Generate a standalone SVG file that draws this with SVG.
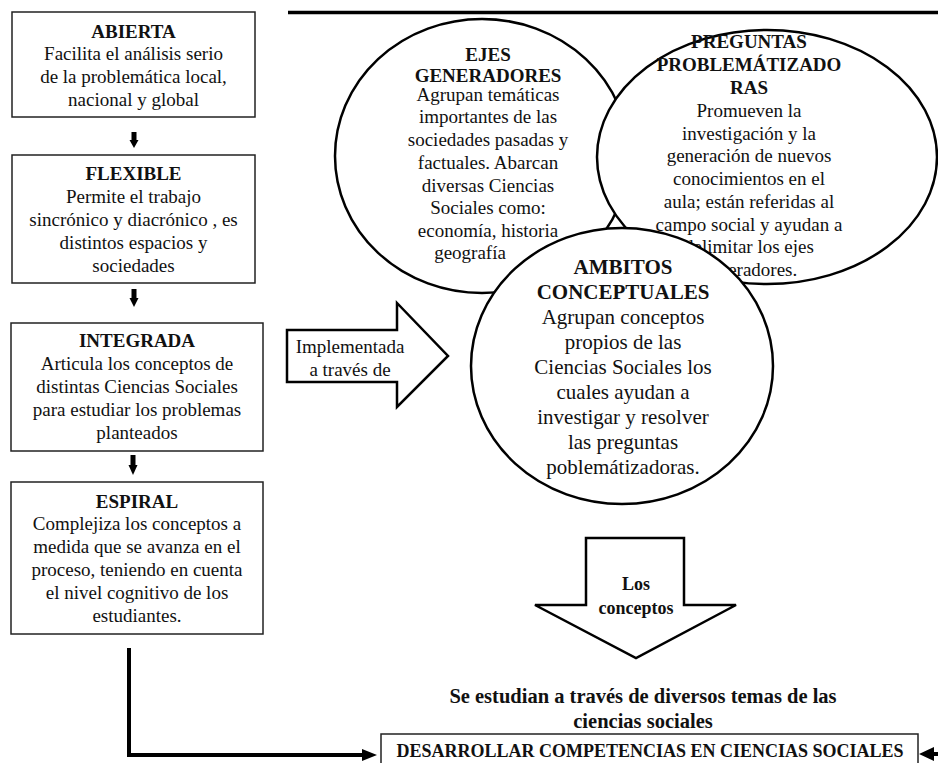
<svg xmlns="http://www.w3.org/2000/svg" width="938" height="763" viewBox="0 0 938 763">
<style>
  text { font-family: "Liberation Serif", "Times New Roman", serif; fill: #111; text-anchor: middle; }
  .t { font-size: 19px; }
  .tb { font-size: 19px; font-weight: bold; }
  .a { font-size: 21px; }
  .ab { font-size: 21px; font-weight: bold; }
  .box { fill: #fff; stroke: #222; stroke-width: 1.5; }
  .circ { fill: #fff; stroke: #000; stroke-width: 2.5; }
  .blk { fill: #fff; stroke: #000; stroke-width: 2.5; stroke-linejoin: miter; }
  .conn { fill: none; stroke: #000; stroke-width: 4; }
  .head { fill: #000; stroke: none; }
</style>

<line x1="288" y1="12.5" x2="938" y2="12.5" stroke="#000" stroke-width="3.5"/>

<g id="abierta">
  <rect class="box" x="12" y="12" width="243" height="105"/>
  <text class="tb" x="133.5" y="38">ABIERTA</text>
  <text class="t" x="133.5" y="60">Facilita el análisis serio</text>
  <text class="t" x="133.5" y="83">de la problemática local,</text>
  <text class="t" x="133.5" y="106">nacional y global</text>
</g>

<g id="flexible">
  <rect class="box" x="12" y="155" width="243" height="128"/>
  <text class="tb" x="133.5" y="180">FLEXIBLE</text>
  <text class="t" x="133.5" y="203">Permite el trabajo</text>
  <text class="t" x="133.5" y="226">sincrónico  y diacrónico , es</text>
  <text class="t" x="133.5" y="249">distintos espacios y</text>
  <text class="t" x="133.5" y="272">sociedades</text>
</g>

<g id="integrada">
  <rect class="box" x="11" y="323" width="252" height="128"/>
  <text class="tb" x="137" y="347">INTEGRADA</text>
  <text class="t" x="137" y="370">Articula los conceptos de</text>
  <text class="t" x="137" y="393">distintas Ciencias Sociales</text>
  <text class="t" x="137" y="416">para estudiar los problemas</text>
  <text class="t" x="137" y="439">planteados</text>
</g>

<g id="espiral">
  <rect class="box" x="11" y="482" width="252" height="152"/>
  <text class="tb" x="137" y="508">ESPIRAL</text>
  <text class="t" x="137" y="530">Complejiza los conceptos a</text>
  <text class="t" x="137" y="553">medida que se avanza en el</text>
  <text class="t" x="137" y="576">proceso, teniendo en cuenta</text>
  <text class="t" x="137" y="599">el nivel cognitivo de los</text>
  <text class="t" x="137" y="622">estudiantes.</text>
</g>

<g id="implementada">
  <polygon class="blk" points="287,330 397,330 397,303 448,356 397,407 397,382 287,382"/>
  <text class="t" x="350" y="353">Implementada</text>
  <text class="t" x="350" y="376">a través de</text>
</g>

<g id="ejes">
  <ellipse class="circ" cx="482" cy="156" rx="147" ry="137"/>
  <text class="tb" x="488" y="61">EJES</text>
  <text class="tb" x="488" y="82">GENERADORES</text>
  <text class="t" x="488" y="101">Agrupan temáticas</text>
  <text class="t" x="488" y="123">importantes de las</text>
  <text class="t" x="488" y="146">sociedades pasadas y</text>
  <text class="t" x="488" y="169">factuales.  Abarcan</text>
  <text class="t" x="488" y="192">diversas Ciencias</text>
  <text class="t" x="488" y="214">Sociales  como:</text>
  <text class="t" x="488" y="237">economía, historia</text>
  <text class="t" x="470" y="259">geografía</text>
</g>

<g id="preguntas">
  <ellipse class="circ" cx="767" cy="157" rx="170" ry="127"/>
  <text class="tb" x="749" y="48">PREGUNTAS</text>
  <text class="tb" x="749" y="71">PROBLEMÁTIZADO</text>
  <text class="tb" x="749" y="94">RAS</text>
  <text class="t" x="749" y="117">Promueven la</text>
  <text class="t" x="749" y="140">investigación  y la</text>
  <text class="t" x="749" y="162">generación de nuevos</text>
  <text class="t" x="749" y="185">conocimientos en el</text>
  <text class="t" x="749" y="208">aula; están referidas al</text>
  <text class="t" x="749" y="231">campo social y ayudan a</text>
  <text class="t" x="749" y="253">delimitar los ejes</text>
  <text class="t" x="749" y="276">generadores.</text>
</g>

<g id="ambitos">
  <ellipse class="circ" cx="622" cy="366" rx="151" ry="138"/>
  <text class="ab" x="623" y="274">AMBITOS</text>
  <text class="ab" x="623" y="299">CONCEPTUALES</text>
  <text class="a" x="623" y="324">Agrupan  conceptos</text>
  <text class="a" x="623" y="349">propios de las</text>
  <text class="a" x="623" y="374">Ciencias Sociales los</text>
  <text class="a" x="623" y="399">cuales ayudan a</text>
  <text class="a" x="623" y="424">investigar y resolver</text>
  <text class="a" x="623" y="449">las preguntas</text>
  <text class="a" x="623" y="474">poblemátizadoras.</text>
</g>

<g id="los-conceptos">
  <polygon class="blk" points="586,538 684,538 684,605 736,605 636,658 535,605 586,605"/>
  <text x="636" y="590" style="font-size:18px;font-weight:bold">Los</text>
  <text x="636" y="614" style="font-size:18px;font-weight:bold">conceptos</text>
</g>

<g id="se-estudian">
  <text x="643" y="703" style="font-size:20.5px;font-weight:bold">Se estudian a través de diversos temas de las</text>
  <text x="643" y="728" style="font-size:20.5px;font-weight:bold">ciencias sociales</text>
</g>

<g id="desarrollar">
  <rect class="box" x="381" y="734" width="537" height="40"/>
  <text x="650" y="757" style="font-size:18px;font-weight:bold">DESARROLLAR COMPETENCIAS EN CIENCIAS SOCIALES</text>
</g>

<g id="connectors">
  <rect class="head" x="131.5" y="132" width="5" height="9"/>
  <polygon class="head" points="129.5,140 138.5,140 134,148"/>
  <rect class="head" x="131.5" y="289" width="5" height="10"/>
  <polygon class="head" points="129.5,298 138.5,298 134,307"/>
  <rect class="head" x="130.5" y="455" width="5" height="11"/>
  <polygon class="head" points="128.5,465 137.5,465 133,475"/>
  <polyline class="conn" points="129,648 129,755 364,755"/>
  <polygon class="head" points="362,749 377,755 362,761"/>
  <line class="conn" x1="938" y1="754" x2="932" y2="754"/>
  <polygon class="head" points="934,747 919,754 934,761"/>
</g>
</svg>
